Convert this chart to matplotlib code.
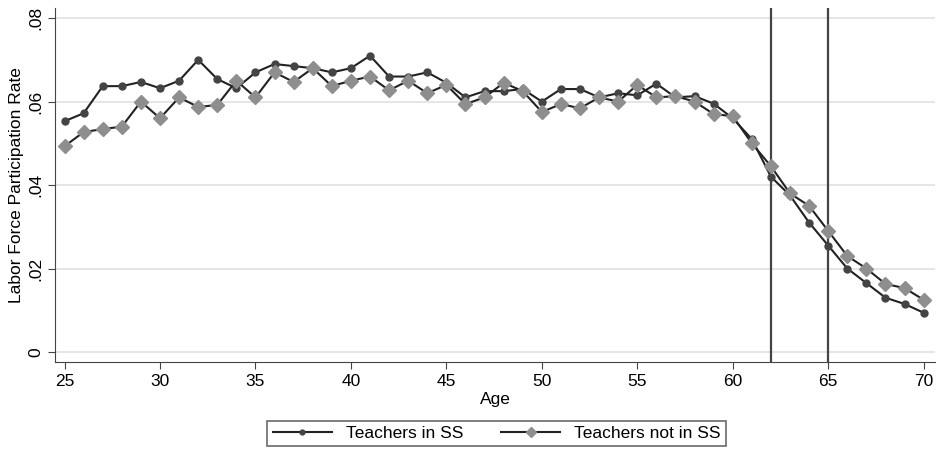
import matplotlib
matplotlib.use("Agg")
import matplotlib.pyplot as plt
import numpy as np

plt.rcParams['font.family'] = ['Liberation Sans', 'DejaVu Sans']

ages = list(range(25, 71))
in_ss = [0.0553, 0.0572, 0.0637, 0.0637, 0.0647, 0.0632, 0.0650, 0.0700, 0.0654, 0.0632,
         0.0670, 0.0690, 0.0685, 0.0680, 0.0670, 0.0680, 0.0710, 0.0660, 0.0660, 0.0670,
         0.0645, 0.0610, 0.0625, 0.0625, 0.0630, 0.0600, 0.0630, 0.0630, 0.0610, 0.0620,
         0.0615, 0.0643, 0.0610, 0.0613, 0.0595, 0.0560, 0.0510, 0.0420, 0.0375, 0.0310,
         0.0255, 0.0200, 0.0165, 0.0130, 0.0115, 0.0094]
not_ss = [0.0493, 0.0527, 0.0534, 0.0540, 0.0600, 0.0560, 0.0610, 0.0587, 0.0592, 0.0650,
          0.0610, 0.0670, 0.0647, 0.0680, 0.0637, 0.0650, 0.0660, 0.0627, 0.0650, 0.0620,
          0.0640, 0.0594, 0.0610, 0.0645, 0.0625, 0.0575, 0.0594, 0.0584, 0.0610, 0.0600,
          0.0640, 0.0610, 0.0613, 0.0600, 0.0570, 0.0565, 0.0500, 0.0445, 0.0380, 0.0350,
          0.0290, 0.0230, 0.0200, 0.0163, 0.0153, 0.0125]
vlines = [62, 65]
xticks = [25, 30, 35, 40, 45, 50, 55, 60, 65, 70]
yticks = [0, 0.02, 0.04, 0.06, 0.08]
ytick_labels = ['0', '.02', '.04', '.06', '.08']

fig = plt.figure(figsize=(9.37, 4.5), dpi=100)
ax = fig.add_axes([0.0587, 0.1956, 0.9393, 0.7864])

for y in yticks:
    ax.axhline(y, color='#e2e2e2', lw=1.2, zorder=0)
for v in vlines:
    ax.axvline(v, color='#444444', lw=1.6, zorder=1)

ax.plot(ages, in_ss, color='#222222', lw=1.5, marker='o', ms=5,
        mfc='#444444', mec='#444444', label='Teachers in SS', zorder=3)
ax.plot(ages, not_ss, color='#222222', lw=1.5, marker='D', ms=7.5,
        mfc='#8e8e8e', mec='#8e8e8e', label='Teachers not in SS', zorder=4)

ax.set_xlim(24.5, 70.6)
ax.set_ylim(-0.0024, 0.0824)
ax.set_xticks(xticks)
ax.set_yticks(yticks)
ax.set_yticklabels(ytick_labels, rotation=90, va='center')
ax.tick_params(axis='both', labelsize=12.5, color='#444444', length=5)
for s in ['top', 'right']:
    ax.spines[s].set_visible(False)
for s in ['left', 'bottom']:
    ax.spines[s].set_color('#444444')
ax.set_xlabel('Age', fontsize=12.5, labelpad=2)
ax.set_ylabel('Labor Force Participation Rate', fontsize=12.5, labelpad=3)

leg = fig.legend(loc='center', bbox_to_anchor=(0.53, 0.037), ncol=2, fontsize=12.5,
                 frameon=True, fancybox=False, edgecolor='#444444', handlelength=3.4,
                 columnspacing=2.2, borderpad=0.3, markerscale=0.7)
leg.get_frame().set_linewidth(1.2)

fig.savefig('out.png', dpi=100)
